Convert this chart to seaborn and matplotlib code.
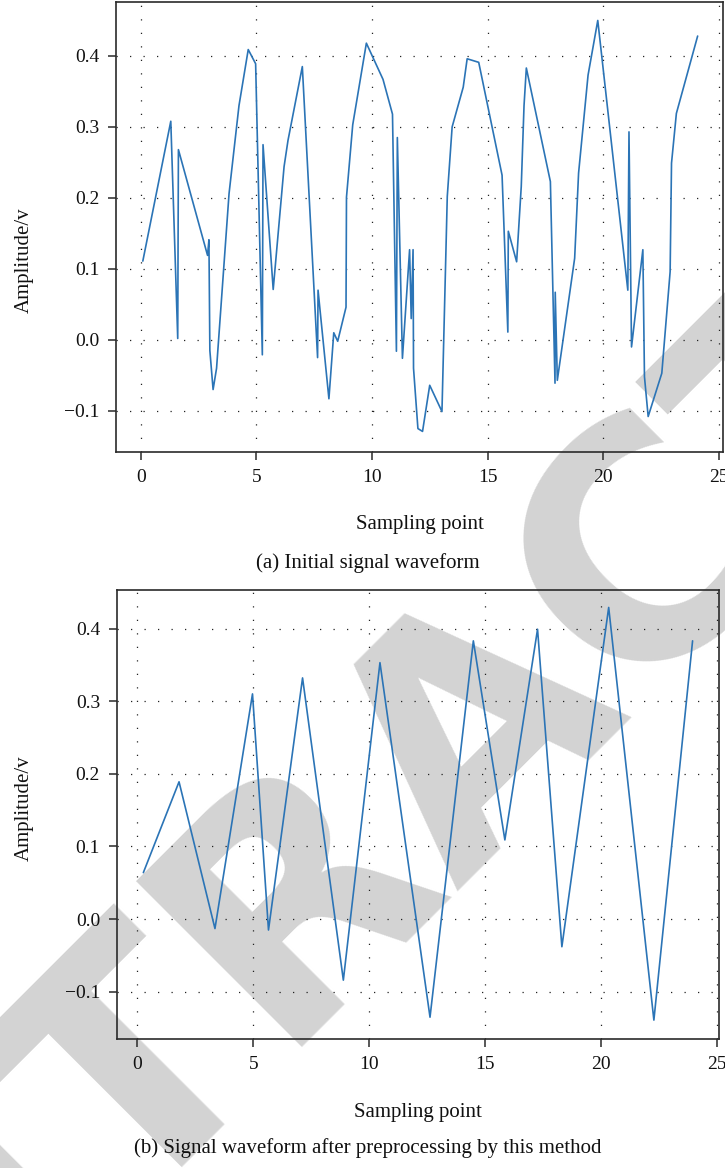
import numpy as np
import pandas as pd
import matplotlib
matplotlib.use("Agg")
import matplotlib.pyplot as plt
import seaborn as sns

# ---------------- data ----------------
x_initial = [0.09, 1.30, 1.60, 1.63, 2.89, 2.95, 2.99, 3.13, 3.28, 3.82, 4.25, 4.65, 4.97,
             5.26, 5.29, 5.73, 6.20, 6.37, 6.99, 7.65, 7.67, 8.14, 8.35, 8.52, 8.88, 8.90,
             9.17, 9.76, 10.48, 10.89, 11.06, 11.10, 11.32, 11.63, 11.70, 11.78, 11.80,
             11.99, 12.19, 12.50, 13.03, 13.26, 13.47, 13.95, 14.12, 14.62, 15.63, 15.88,
             15.90, 16.26, 16.46, 16.58, 16.68, 17.72, 17.92, 17.93, 18.02, 18.77, 18.94,
             19.35, 19.77, 21.07, 21.12, 21.23, 21.72, 21.79, 21.95, 22.54, 22.90, 22.96,
             23.17, 24.09]
y_initial = [0.111, 0.308, 0.002, 0.268, 0.119, 0.141, -0.015, -0.070, -0.040, 0.206, 0.330,
             0.409, 0.389, -0.021, 0.275, 0.071, 0.244, 0.281, 0.385, -0.025, 0.070, -0.083,
             0.010, -0.002, 0.046, 0.201, 0.303, 0.418, 0.367, 0.318, -0.016, 0.285, -0.026,
             0.127, 0.030, 0.127, -0.040, -0.125, -0.129, -0.064, -0.101, 0.202, 0.300, 0.356,
             0.396, 0.391, 0.232, 0.011, 0.153, 0.110, 0.216, 0.330, 0.383, 0.223, -0.061,
             0.067, -0.057, 0.115, 0.235, 0.373, 0.450, 0.070, 0.293, -0.010, 0.127, -0.052,
             -0.108, -0.047, 0.096, 0.249, 0.319, 0.428]

x_processed = [0.26, 1.80, 3.35, 4.97, 5.66, 7.13, 8.89, 10.47, 12.63, 14.50, 15.86, 17.27,
               18.32, 20.34, 22.29, 23.96]
y_processed = [0.064, 0.189, -0.013, 0.310, -0.015, 0.332, -0.084, 0.353, -0.135, 0.383,
               0.109, 0.399, -0.038, 0.429, -0.139, 0.383]

x_ticks = [0, 5, 10, 15, 20, 25]
y_ticks = [-0.1, 0.0, 0.1, 0.2, 0.3, 0.4]

x_label = "Sampling point"
y_label = "Amplitude/v"
captions = ["(a) Initial signal waveform",
            "(b) Signal waveform after preprocessing by this method"]
watermark = "RETRACTED"

# ---------------- style ----------------
sns.set_theme(style="white")
plt.rcParams["font.family"] = ["Liberation Serif", "DejaVu Serif"]
plt.rcParams["axes.unicode_minus"] = True

W, H = 725, 1168
fig = plt.figure(figsize=(W / 100, H / 100), dpi=100)
fig.patch.set_facecolor("white")

line_color = "#2b74b6"
spine_color = "#2a2a2a"

# panel geometry in pixels: left, top, right, bottom
panels = [
    dict(box=(116, 2, 723.3, 452), xlim=(-1.07, 25.2), ylim=(-0.158, 0.476),
         x=x_initial, y=y_initial, ylab_y=260, xlab_y=524, cap_y=563),
    dict(box=(116.7, 590, 719, 1039), xlim=(-0.89, 25.1), ylim=(-0.165, 0.453),
         x=x_processed, y=y_processed, ylab_y=808, xlab_y=1113, cap_y=1148),
]

for i, p in enumerate(panels):
    l, t, r, b = p["box"]
    ax = fig.add_axes([l / W, 1 - b / H, (r - l) / W, (b - t) / H])
    ax.set_facecolor("none")
    df = pd.DataFrame({"x": p["x"], "y": p["y"]})
    sns.lineplot(data=df, x="x", y="y", ax=ax, sort=False, estimator=None,
                 color=line_color, linewidth=1.2, zorder=3)
    ax.set_xlim(*p["xlim"])
    ax.set_ylim(*p["ylim"])
    ax.set_xticks(x_ticks)
    ax.set_yticks(y_ticks)
    ax.set_xticklabels([str(v) for v in x_ticks])
    ax.set_yticklabels([f"{v:.1f}".replace("-", "\u2212") for v in y_ticks])
    ax.grid(True, color="#222222", linestyle=(0, (1, 9.8)), linewidth=0.9)
    for s in ax.spines.values():
        s.set_color(spine_color)
        s.set_linewidth(1.2)
    ax.tick_params(axis="both", which="major", direction="out", length=6,
                   width=1.1, color=spine_color, labelsize=14, labelcolor="#111111",
                   bottom=True, left=True, top=False, right=False)
    ax.tick_params(axis="x", pad=6)
    ax.tick_params(axis="y", pad=6)
    ax.set_xlabel("")
    ax.set_ylabel("")
    # axis labels & caption
    fig.text(24 / W, 1 - p["ylab_y"] / H, y_label, rotation=90, ha="center",
             va="center", fontsize=15, color="#111111")
    fig.text(((l + r) / 2) / W, 1 - p["xlab_y"] / H, x_label, ha="center",
             va="center", fontsize=15, color="#111111")
    fig.text(368 / W, 1 - p["cap_y"] / H, captions[i], ha="center",
             va="center", fontsize=15, color="#111111")

# watermark behind everything
fig.text(477 / W, 1 - 718 / H, watermark, rotation=45, ha="center", va="center",
         fontsize=232, fontweight="bold", color="#d3d3d3",
         family="DejaVu Sans", zorder=-5, rotation_mode="anchor")

fig.savefig("out.png", dpi=100, facecolor="white")
